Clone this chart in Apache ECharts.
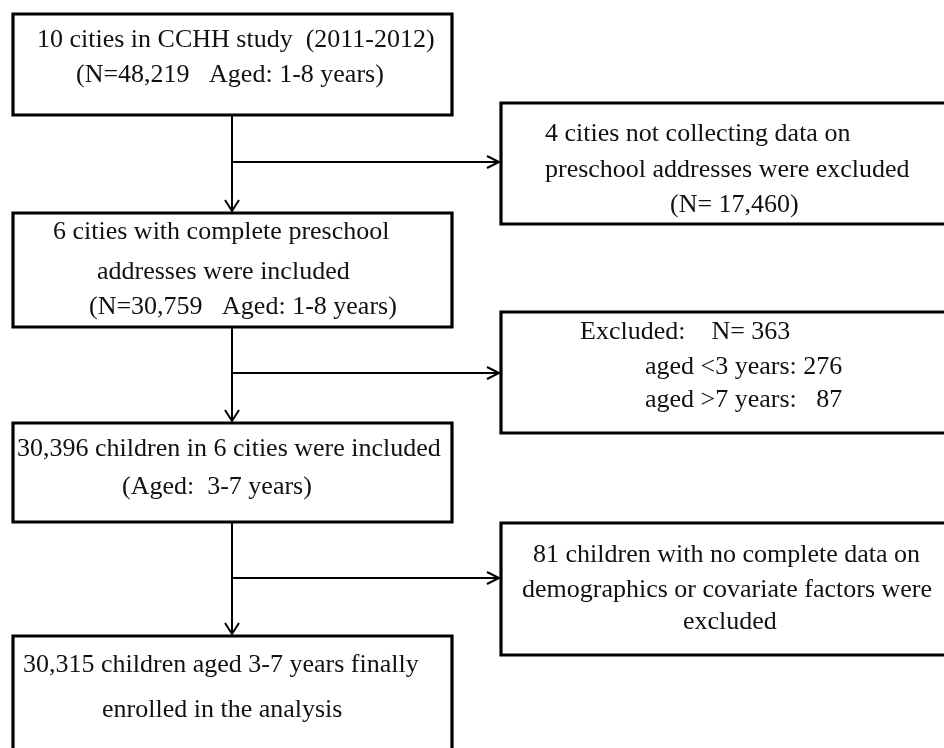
<!DOCTYPE html>
<html>
<head>
<meta charset="utf-8">
<script src="https://cdn.jsdelivr.net/npm/echarts@6/dist/echarts.min.js"></script>
<style>
  html, body { margin: 0; padding: 0; background: #ffffff; }
  #chart { width: 944px; height: 748px; }
</style>
</head>
<body>
<div id="chart"></div>
<script>
// Box rectangles: [x0, y0, x1, y1] in picture units (y grows downward)
const mainBoxes = [
  [13, 14, 452, 115],
  [13, 213, 452, 327],
  [13, 423, 452, 522],
  [13, 636, 452, 790]
];
const sideBoxes = [
  [501, 103, 960, 224],
  [501, 312, 960, 433],
  [501, 523, 960, 655]
];
// Box texts, one row per line: [text, x, y, align]
const mainTexts = [
  ["10 cities in CCHH study  (2011-2012)", 37, 40, "left"],
  ["(N=48,219   Aged: 1-8 years)", 76, 75, "left"],
  ["6 cities with complete preschool", 53, 232, "left"],
  ["addresses were included", 97, 272, "left"],
  ["(N=30,759   Aged: 1-8 years)", 89, 307, "left"],
  ["30,396 children in 6 cities were included", 17, 449, "left"],
  ["(Aged:  3-7 years)", 122, 487, "left"],
  ["30,315 children aged 3-7 years finally", 23, 665, "left"],
  ["enrolled in the analysis", 102, 710, "left"]
];
const sideTexts = [
  ["4 cities not collecting data on", 545, 134, "left"],
  ["preschool addresses were excluded", 545, 170, "left"],
  ["(N= 17,460)", 670, 205, "left"],
  ["Excluded:    N= 363", 580, 332, "left"],
  ["aged <3 years: 276", 645, 367, "left"],
  ["aged >7 years:   87", 645, 400, "left"],
  ["81 children with no complete data on", 533, 555, "left"],
  ["demographics or covariate factors were", 522, 590, "left"],
  ["excluded", 683, 622, "left"]
];
// Flow connectors
const trunkX = 232;
const trunkSegments = [[115, 211], [327, 421], [522, 634]]; // [from y, arrow tip y]
const branchRows = [162, 373, 578]; // y of each exclusion branch
const branchTipX = 499;

const FONT = '26px "Liberation Serif", "Times New Roman", serif';
const INK = '#111111';

const chart = echarts.init(document.getElementById('chart'), null, { renderer: 'canvas' });

function boxSeries(name, data) {
  return {
    type: 'custom', name, data, clip: false, silent: true,
    renderItem: (params, api) => {
      const p0 = api.coord([api.value(0), api.value(1)]);
      const p1 = api.coord([api.value(2), api.value(3)]);
      return {
        type: 'rect',
        shape: { x: p0[0], y: p0[1], width: p1[0] - p0[0], height: p1[1] - p0[1] },
        style: { fill: '#ffffff', stroke: '#000000', lineWidth: 3.2 }
      };
    }
  };
}
function textSeries(name, data) {
  return {
    type: 'custom', name, data, clip: false, silent: true, z: 5,
    renderItem: (params, api) => {
      const row = data[params.dataIndex];
      const p = api.coord([row[1], row[2]]);
      return {
        type: 'text', x: p[0], y: p[1],
        style: { text: row[0], font: FONT, fill: INK, align: row[3], verticalAlign: 'middle' }
      };
    }
  };
}

const option = {
  backgroundColor: '#ffffff',
  animation: false,
  grid: { left: 0, right: 0, top: 0, bottom: 0 },
  xAxis: { type: 'value', min: 0, max: 944, show: false },
  yAxis: { type: 'value', min: 0, max: 748, inverse: true, show: false },
  series: [
    {
      type: 'custom', name: 'trunk', clip: false, silent: true,
      data: trunkSegments,
      renderItem: (params, api) => {
        const a = api.coord([trunkX, api.value(0)]);
        const b = api.coord([trunkX, api.value(1)]);
        const st = { stroke: '#000000', lineWidth: 2, fill: null };
        return {
          type: 'group', children: [
            { type: 'line', shape: { x1: a[0], y1: a[1], x2: b[0], y2: b[1] }, style: st },
            { type: 'polyline', shape: { points: [[b[0] - 7, b[1] - 11], [b[0], b[1]], [b[0] + 7, b[1] - 11]] }, style: st }
          ]
        };
      }
    },
    {
      type: 'custom', name: 'branches', clip: false, silent: true,
      data: branchRows,
      renderItem: (params, api) => {
        const a = api.coord([trunkX, api.value(0)]);
        const b = api.coord([branchTipX, api.value(0)]);
        const st = { stroke: '#000000', lineWidth: 2, fill: null };
        return {
          type: 'group', children: [
            { type: 'line', shape: { x1: a[0], y1: a[1], x2: b[0], y2: b[1] }, style: st },
            { type: 'polyline', shape: { points: [[b[0] - 12, b[1] - 6], [b[0], b[1]], [b[0] - 12, b[1] + 6]] }, style: st }
          ]
        };
      }
    },
    boxSeries('mainBoxes', mainBoxes),
    boxSeries('sideBoxes', sideBoxes),
    textSeries('mainTexts', mainTexts),
    textSeries('sideTexts', sideTexts)
  ]
};
chart.setOption(option);
</script>
</body>
</html>
